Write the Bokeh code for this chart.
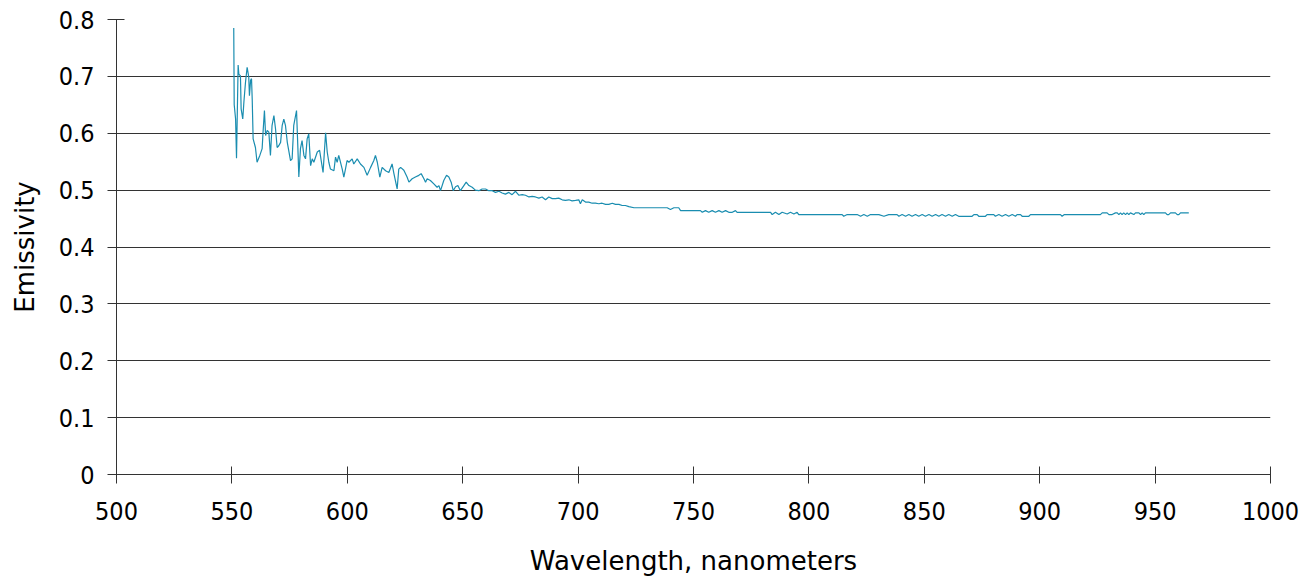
from bokeh.plotting import figure
from bokeh.models import FixedTicker, NumeralTickFormatter, Range1d
from bokeh.embed import file_html
from bokeh.resources import INLINE

wavelength = [
    550.8, 551.0, 551.6, 552.0, 552.7, 553.0, 553.7, 554.0, 554.7, 555.2, 555.9, 556.6, 557.3, 557.6,
    558.1, 558.5, 558.8, 559.2, 560.2, 560.9, 562.1, 563.1, 563.5, 564.1, 564.6, 565.3, 566.0, 566.7,
    567.4, 568.2, 568.9, 569.6, 570.3, 571.1, 571.8, 572.5, 573.2, 574.0, 575.4, 576.1, 576.8, 578.0,
    578.6, 579.0, 579.7, 580.4, 581.2, 581.9, 582.6, 583.3, 584.1, 584.8, 585.5, 587.0, 588.0, 588.8,
    589.5, 590.6, 591.3, 592.0, 592.7, 594.2, 594.9, 595.6, 596.3, 597.8, 598.5, 599.2, 599.9, 600.7,
    602.1, 602.8, 604.3, 605.7, 607.2, 608.6, 610.1, 611.5, 612.2, 613.0, 614.1, 615.1, 616.6, 618.0,
    619.4, 620.2, 621.6, 622.3, 623.1,
    624.5, 625.9, 626.7, 628.1, 629.5, 631.0, 632.0, 633.2, 633.9, 634.6, 636.0, 637.5, 638.9, 639.7,
    640.4, 641.8, 643.0, 644.0, 645.0, 645.9, 646.9, 647.9, 649.0, 650.5, 651.5, 652.7, 654.1, 655.5,
    657.0, 658.4, 659.9, 661.3, 662.8, 664.2, 665.7, 667.1, 668.5, 670.0, 671.4, 672.9, 674.3, 675.8,
    677.2, 678.7, 680.1, 681.5, 683.0, 684.4, 685.9, 687.3, 688.8, 690.2, 691.6, 693.1, 694.5, 696.0,
    697.4, 698.9, 700.3, 701.0, 701.8, 703.2, 704.6, 706.1, 707.5, 709.0, 710.4, 711.9, 713.3, 714.8,
    716.2, 717.7, 719.1, 720.5, 722.0, 724.2,
    738.6, 740.0, 741.5, 743.6, 744.4, 753.0, 753.8, 755.2, 756.6, 758.1, 759.5, 761.0, 762.4, 763.9,
    765.3, 766.8, 768.2, 768.9, 783.4, 784.1, 785.5, 787.0, 788.4, 790.6, 792.0, 793.5, 794.9, 795.6,
    814.4, 815.1, 816.6, 820.9, 822.4, 823.8, 825.3, 826.7, 830.3, 832.5, 834.6, 838.2, 839.0, 840.4,
    841.9, 843.3, 844.7, 846.2, 847.6, 849.1, 850.5, 852.0, 853.4, 854.9, 856.3, 857.7, 859.2, 860.6,
    862.1, 863.5, 864.9,
    870.7, 871.5, 872.9, 873.6, 876.5, 877.2, 880.1, 880.8, 882.3, 883.7, 885.2, 886.6, 888.1, 889.5,
    890.2, 891.7, 892.4, 895.3, 896.0, 909.0, 909.7, 910.7, 926.3, 927.1, 929.2, 930.0, 931.4, 932.8,
    933.6, 934.3, 935.0, 935.7, 936.4, 937.2, 937.9, 938.6, 939.3, 940.8, 941.5, 943.0, 943.7, 944.4,
    945.1, 945.8, 954.5, 955.2, 955.9, 956.7, 958.8, 959.6, 960.3, 961.0, 964.6,
]

emissivity = [
    0.785, 0.650, 0.625, 0.556, 0.720, 0.704, 0.701, 0.643, 0.625, 0.655, 0.690, 0.716, 0.699, 0.666,
    0.693, 0.696, 0.660, 0.590, 0.575, 0.549, 0.561, 0.573, 0.602, 0.640, 0.596, 0.605, 0.602, 0.561,
    0.614, 0.631, 0.608, 0.575, 0.578, 0.584, 0.614, 0.625, 0.614, 0.584, 0.552, 0.555, 0.614, 0.640,
    0.573, 0.523, 0.573, 0.587, 0.561, 0.555, 0.590, 0.599, 0.543, 0.555, 0.549, 0.567, 0.570, 0.549,
    0.531, 0.601, 0.567, 0.549, 0.537, 0.534, 0.558, 0.549, 0.561, 0.537, 0.523, 0.537, 0.552, 0.549,
    0.555, 0.546, 0.555, 0.546, 0.540, 0.526, 0.540, 0.552, 0.561, 0.549, 0.523, 0.540, 0.534, 0.531,
    0.546, 0.529, 0.502, 0.537, 0.540,
    0.535, 0.523, 0.514, 0.520, 0.523, 0.526, 0.529, 0.520, 0.514, 0.520, 0.517, 0.511, 0.505, 0.508,
    0.499, 0.517, 0.526, 0.523, 0.514, 0.499, 0.506, 0.508, 0.499, 0.508, 0.514, 0.508, 0.505, 0.500,
    0.499, 0.502, 0.502, 0.499, 0.499, 0.496, 0.498, 0.495, 0.493, 0.496, 0.492, 0.498, 0.491, 0.492,
    0.491, 0.488, 0.489, 0.488, 0.486, 0.488, 0.483, 0.488, 0.485, 0.485, 0.486, 0.483, 0.482, 0.483,
    0.481, 0.482, 0.483, 0.476, 0.483, 0.479, 0.479, 0.477, 0.477, 0.476, 0.477, 0.475, 0.475, 0.477,
    0.475, 0.475, 0.473, 0.473, 0.471, 0.469,
    0.469, 0.466, 0.469, 0.469, 0.464, 0.464, 0.461, 0.464, 0.461, 0.464, 0.461, 0.464, 0.461, 0.464,
    0.461, 0.461, 0.464, 0.461, 0.461, 0.457, 0.461, 0.457, 0.461, 0.458, 0.461, 0.458, 0.461, 0.457,
    0.457, 0.454, 0.457, 0.457, 0.454, 0.457, 0.454, 0.457, 0.457, 0.454, 0.457, 0.457, 0.454, 0.457,
    0.454, 0.457, 0.454, 0.457, 0.454, 0.457, 0.454, 0.457, 0.454, 0.457, 0.454, 0.457, 0.454, 0.457,
    0.454, 0.457, 0.454,
    0.454, 0.457, 0.457, 0.454, 0.454, 0.457, 0.457, 0.454, 0.457, 0.454, 0.457, 0.454, 0.457, 0.454,
    0.457, 0.457, 0.454, 0.454, 0.457, 0.457, 0.454, 0.457, 0.457, 0.460, 0.460, 0.457, 0.457, 0.460,
    0.460, 0.457, 0.460, 0.457, 0.460, 0.457, 0.460, 0.457, 0.460, 0.457, 0.460, 0.460, 0.457, 0.460,
    0.457, 0.460, 0.460, 0.457, 0.457, 0.460, 0.460, 0.457, 0.457, 0.460, 0.460,
]

x_ticks = [500, 550, 600, 650, 700, 750, 800, 850, 900, 950, 1000]
y_ticks = [0, 0.1, 0.2, 0.3, 0.4, 0.5, 0.6, 0.7, 0.8]

TICK_FONT = "DejaVu Sans Condensed"
LABEL_FONT = "DejaVu Sans"

p = figure(width=1300, height=578, output_backend="svg", toolbar_location=None,
           x_range=Range1d(500, 1000), y_range=Range1d(0, 0.8),
           min_border_left=116, min_border_right=30, min_border_top=19, min_border_bottom=104)
p.outline_line_color = None
p.background_fill_color = "white"

p.line(wavelength, emissivity, line_color="#1a8db0", line_width=1.2)

p.xgrid.grid_line_color = None
p.ygrid.grid_line_color = "#333333"
p.ygrid.grid_line_width = 1
p.ygrid.ticker = FixedTicker(ticks=y_ticks)

p.xaxis.ticker = FixedTicker(ticks=x_ticks)
p.yaxis.ticker = FixedTicker(ticks=y_ticks)
p.yaxis.formatter = NumeralTickFormatter(format="0.[0]")

for ax in (p.xaxis[0], p.yaxis[0]):
    ax.axis_line_color = "#333333"
    ax.major_tick_line_color = "#333333"
    ax.major_tick_in = 8
    ax.major_tick_out = 9
    ax.minor_tick_line_color = None
    ax.major_label_text_font = TICK_FONT
    ax.major_label_text_font_size = "25px"
    ax.major_label_text_color = "#000000"
    ax.axis_label_text_font = LABEL_FONT
    ax.axis_label_text_font_size = "26px"
    ax.axis_label_text_font_style = "normal"
    ax.axis_label_text_color = "#000000"

p.xaxis.axis_label = "Wavelength, nanometers"
p.yaxis.axis_label = "Emissivity"
p.xaxis.major_label_standoff = 18
p.yaxis.major_label_standoff = 13
p.xaxis.axis_label_standoff = 23
p.yaxis.axis_label_standoff = 16

open("out.html", "w").write(file_html(p, INLINE))
